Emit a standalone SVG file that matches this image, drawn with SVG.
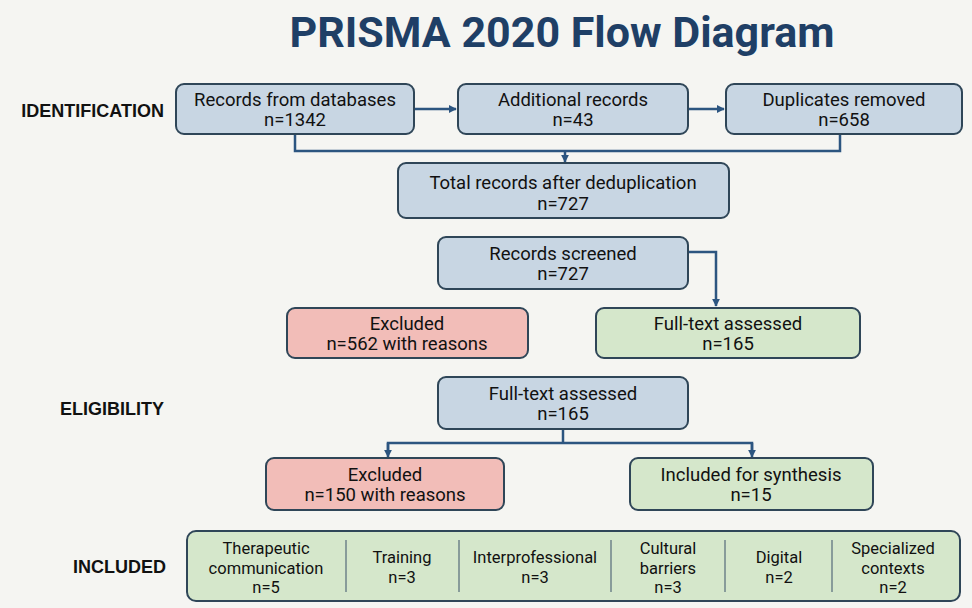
<svg xmlns="http://www.w3.org/2000/svg" width="972" height="608" viewBox="0 0 972 608">
<defs>
<marker id="ah" viewBox="0 0 10 10" refX="9" refY="5" markerWidth="8" markerHeight="8" orient="auto" markerUnits="userSpaceOnUse">
<path d="M0,0 L10,5 L0,10 Z" fill="#2c5580"/>
</marker>
<style>
.bg{fill:#f5f5f2}
.title{font-family:Roboto,"Liberation Sans",sans-serif;font-weight:700;font-size:43px;fill:#1f3f66;text-anchor:middle}
.stage{font-family:"Liberation Sans",Arial,sans-serif;font-weight:700;font-size:18px;fill:#111;text-anchor:end}
.box{stroke:#2f4658;stroke-width:2}
.blue{fill:#c8d6e3}
.red{fill:#f2bdb8}
.green{fill:#d5e7cb}
.t{font-family:Roboto,"Liberation Sans",sans-serif;font-size:18.5px;fill:#111;text-anchor:middle}
.s{font-family:Roboto,"Liberation Sans",sans-serif;font-size:16.5px;fill:#111;text-anchor:middle}
.conn{fill:none;stroke:#2c5580;stroke-width:2.5}
.div{stroke:#556b7a;stroke-width:1.2}
</style>
</defs>
<rect class="bg" x="0" y="0" width="972" height="608"/>
<text class="title" x="562" y="47">PRISMA 2020 Flow Diagram</text>
<g id="labels">
<text class="stage" x="164" y="117">IDENTIFICATION</text>
<text class="stage" x="164" y="415">ELIGIBILITY</text>
<text class="stage" x="166" y="573">INCLUDED</text>
</g>
<g id="connectors">
<line class="conn" x1="414" y1="109" x2="456" y2="109" marker-end="url(#ah)"/>
<line class="conn" x1="688" y1="109" x2="724" y2="109" marker-end="url(#ah)"/>
<polyline class="conn" points="295,134 295,151 840,151 840,134"/>
<line class="conn" x1="565" y1="151" x2="565" y2="162" marker-end="url(#ah)"/>
<polyline class="conn" points="688,252 716,252 716,306" marker-end="url(#ah)"/>
<line class="conn" x1="563" y1="429" x2="563" y2="443"/>
<polyline class="conn" points="388,450 388,443 752,443 752,450"/>
<line class="conn" x1="388" y1="443" x2="388" y2="457" marker-end="url(#ah)"/>
<line class="conn" x1="752" y1="443" x2="752" y2="457" marker-end="url(#ah)"/>
</g>
<g id="n1"><rect class="box blue" x="176" y="84" width="238" height="50" rx="8"/><text class="t" x="295" y="106">Records from databases</text><text class="t" x="295" y="126">n=1342</text></g>
<g id="n2"><rect class="box blue" x="458" y="84" width="230" height="50" rx="8"/><text class="t" x="573" y="106">Additional records</text><text class="t" x="573" y="126">n=43</text></g>
<g id="n3"><rect class="box blue" x="726" y="84" width="236" height="50" rx="8"/><text class="t" x="844" y="106">Duplicates removed</text><text class="t" x="844" y="126">n=658</text></g>
<g id="n4"><rect class="box blue" x="398" y="163" width="331" height="55" rx="8"/><text class="t" x="563" y="189">Total records after deduplication</text><text class="t" x="563" y="210">n=727</text></g>
<g id="n5"><rect class="box blue" x="438" y="237" width="250" height="52" rx="8"/><text class="t" x="563" y="260">Records screened</text><text class="t" x="563" y="280">n=727</text></g>
<g id="n6"><rect class="box red" x="287" y="308" width="241" height="50" rx="8"/><text class="t" x="407" y="330">Excluded</text><text class="t" x="407" y="350">n=562 with reasons</text></g>
<g id="n7"><rect class="box green" x="596" y="308" width="264" height="50" rx="8"/><text class="t" x="728" y="330">Full-text assessed</text><text class="t" x="728" y="350">n=165</text></g>
<g id="n8"><rect class="box blue" x="438" y="377" width="250" height="52" rx="8"/><text class="t" x="563" y="400">Full-text assessed</text><text class="t" x="563" y="420">n=165</text></g>
<g id="n9"><rect class="box red" x="266" y="458" width="238" height="52" rx="8"/><text class="t" x="385" y="481">Excluded</text><text class="t" x="385" y="501">n=150 with reasons</text></g>
<g id="n10"><rect class="box green" x="630" y="458" width="243" height="52" rx="8"/><text class="t" x="751" y="481">Included for synthesis</text><text class="t" x="751" y="501">n=15</text></g>
<g id="n11">
<rect class="box green" x="187" y="531" width="773" height="70" rx="9"/>
<line class="div" x1="346" y1="540" x2="346" y2="592"/>
<line class="div" x1="459" y1="540" x2="459" y2="592"/>
<line class="div" x1="611" y1="540" x2="611" y2="592"/>
<line class="div" x1="725" y1="540" x2="725" y2="592"/>
<line class="div" x1="832" y1="540" x2="832" y2="592"/>
<text class="s" x="266" y="554">Therapeutic</text><text class="s" x="266" y="573.5">communication</text><text class="s" x="266" y="593">n=5</text>
<text class="s" x="402" y="563">Training</text><text class="s" x="402" y="582.5">n=3</text>
<text class="s" x="535" y="563">Interprofessional</text><text class="s" x="535" y="582.5">n=3</text>
<text class="s" x="668" y="554">Cultural</text><text class="s" x="668" y="573.5">barriers</text><text class="s" x="668" y="593">n=3</text>
<text class="s" x="779" y="563">Digital</text><text class="s" x="779" y="582.5">n=2</text>
<text class="s" x="893" y="554">Specialized</text><text class="s" x="893" y="573.5">contexts</text><text class="s" x="893" y="593">n=2</text>
</g>
</svg>
